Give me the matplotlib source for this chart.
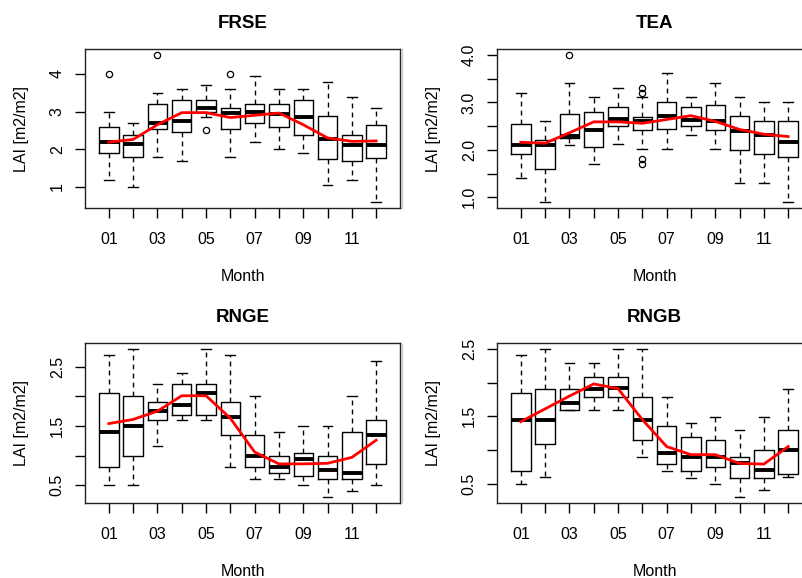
import matplotlib
matplotlib.use("Agg")
import matplotlib.pyplot as plt
from matplotlib.lines import Line2D

plt.rcParams['font.family'] = ['Liberation Sans', 'DejaVu Sans']

months = list(range(1, 13))
month_labels = ["01", "", "03", "", "05", "", "07", "", "09", "", "11", ""]

# ---- FRSE ----
frse_whislo = [1.19, 1.00, 1.80, 1.69, 2.85, 1.80, 2.20, 2.00, 1.89, 1.05, 1.19, 0.60]
frse_q1     = [1.89, 1.79, 2.55, 2.45, 3.00, 2.55, 2.70, 2.59, 2.38, 1.75, 1.69, 1.77]
frse_med    = [2.19, 2.14, 2.70, 2.75, 3.10, 2.97, 3.00, 2.94, 2.85, 2.27, 2.10, 2.10]
frse_q3     = [2.59, 2.37, 3.20, 3.30, 3.30, 3.10, 3.20, 3.20, 3.30, 2.89, 2.39, 2.63]
frse_whishi = [3.00, 2.70, 3.50, 3.60, 3.70, 3.60, 3.95, 3.60, 3.60, 3.79, 3.39, 3.10]
frse_fliers = [[4.0], [], [4.5], [], [2.5], [4.0], [], [], [], [], [], []]
frse_mean   = [2.19, 2.26, 2.65, 2.97, 2.97, 2.84, 2.90, 2.96, 2.65, 2.30, 2.21, 2.22]
frse_yticks = [1, 2, 3, 4]
frse_yticklabels = ["1", "2", "3", "4"]

# ---- TEA ----
tea_whislo = [1.40, 0.90, 2.10, 1.71, 2.12, 2.02, 2.01, 2.31, 2.01, 1.31, 1.31, 0.90]
tea_q1     = [1.91, 1.60, 2.26, 2.05, 2.50, 2.41, 2.43, 2.50, 2.41, 2.00, 1.91, 1.86]
tea_med    = [2.11, 2.10, 2.29, 2.41, 2.66, 2.60, 2.71, 2.63, 2.60, 2.39, 2.31, 2.16]
tea_q3     = [2.55, 2.21, 2.75, 2.80, 2.90, 2.70, 3.00, 2.90, 2.95, 2.71, 2.60, 2.60]
tea_whishi = [3.20, 2.60, 3.41, 3.11, 3.30, 3.11, 3.61, 3.11, 3.41, 3.11, 3.00, 3.00]
tea_fliers = [[], [], [4.0], [], [], [3.20, 3.31, 1.71, 1.81], [], [], [], [], [], []]
tea_mean   = [2.16, 2.14, 2.36, 2.59, 2.59, 2.56, 2.64, 2.72, 2.60, 2.43, 2.33, 2.28]
tea_yticks = [1.0, 1.5, 2.0, 2.5, 3.0, 3.5, 4.0]
tea_yticklabels = ["1.0", "", "2.0", "", "3.0", "", "4.0"]

# ---- RNGE ----
rnge_whislo = [0.50, 0.50, 1.17, 1.60, 1.60, 0.80, 0.60, 0.60, 0.50, 0.30, 0.40, 0.50]
rnge_q1     = [0.80, 1.00, 1.60, 1.69, 1.69, 1.35, 0.80, 0.70, 0.65, 0.60, 0.60, 0.85]
rnge_med    = [1.40, 1.50, 1.76, 1.85, 2.05, 1.65, 1.00, 0.80, 0.95, 0.76, 0.70, 1.35]
rnge_q3     = [2.05, 2.00, 1.90, 2.20, 2.20, 1.90, 1.34, 1.00, 1.05, 1.00, 1.40, 1.60]
rnge_whishi = [2.70, 2.80, 2.20, 2.39, 2.80, 2.70, 2.00, 1.40, 1.50, 1.50, 2.00, 2.60]
rnge_fliers = [[] for _ in range(12)]
rnge_mean   = [1.54, 1.61, 1.75, 2.01, 2.01, 1.63, 1.06, 0.86, 0.86, 0.87, 0.97, 1.26]
rnge_yticks = [0.5, 1.0, 1.5, 2.0, 2.5]
rnge_yticklabels = ["0.5", "", "1.5", "", "2.5"]

# ---- RNGB ----
rngb_whislo = [0.50, 0.60, 1.60, 1.60, 1.60, 0.90, 0.69, 0.59, 0.50, 0.30, 0.40, 0.60]
rngb_q1     = [0.69, 1.09, 1.60, 1.79, 1.79, 1.15, 0.79, 0.69, 0.75, 0.59, 0.59, 0.65]
rngb_med    = [1.45, 1.45, 1.70, 1.90, 1.92, 1.45, 0.95, 0.90, 0.90, 0.80, 0.70, 1.00]
rngb_q3     = [1.85, 1.90, 1.90, 2.09, 2.09, 1.79, 1.35, 1.19, 1.15, 0.89, 1.00, 1.30]
rngb_whishi = [2.41, 2.50, 2.29, 2.29, 2.50, 2.50, 1.79, 1.40, 1.49, 1.30, 1.49, 1.90]
rngb_fliers = [[] for _ in range(12)]
rngb_mean   = [1.42, 1.61, 1.80, 1.98, 1.91, 1.45, 1.05, 0.93, 0.93, 0.80, 0.79, 1.05]
rngb_yticks = [0.5, 1.0, 1.5, 2.0, 2.5]
rngb_yticklabels = ["0.5", "", "1.5", "", "2.5"]

panels = [
    ("FRSE", frse_whislo, frse_q1, frse_med, frse_q3, frse_whishi, frse_fliers, frse_mean, frse_yticks, frse_yticklabels),
    ("TEA", tea_whislo, tea_q1, tea_med, tea_q3, tea_whishi, tea_fliers, tea_mean, tea_yticks, tea_yticklabels),
    ("RNGE", rnge_whislo, rnge_q1, rnge_med, rnge_q3, rnge_whishi, rnge_fliers, rnge_mean, rnge_yticks, rnge_yticklabels),
    ("RNGB", rngb_whislo, rngb_q1, rngb_med, rngb_q3, rngb_whishi, rngb_fliers, rngb_mean, rngb_yticks, rngb_yticklabels),
]

W, H = 802, 578
fig = plt.figure(figsize=(W / 100, H / 100), dpi=100)

# axes rectangles in pixels: (left, top, right, bottom)
rects = [(85, 49, 400, 208), (497, 49, 812, 208), (85, 343, 400, 503), (497, 343, 812, 503)]

FS = 11.5
for (name, wlo, q1, med, q3, whi, fl, mean, yt, ytl), (l, t, r, b) in zip(panels, rects):
    ax = fig.add_axes([l / W, 1 - b / H, (r - l) / W, (b - t) / H])
    stats = []
    for i in range(12):
        stats.append(dict(whislo=wlo[i], q1=q1[i], med=med[i], q3=q3[i], whishi=whi[i], fliers=fl[i]))
    ax.bxp(stats, positions=months, widths=0.8, capwidths=0.4, showfliers=True,
           boxprops=dict(color='black', linewidth=1.0),
           medianprops=dict(color='black', linewidth=2.8, solid_capstyle='butt'),
           whiskerprops=dict(color='black', linewidth=1.0, linestyle=(0, (3.5, 3))),
           capprops=dict(color='black', linewidth=1.0),
           flierprops=dict(marker='o', markersize=4.5, markerfacecolor='none',
                           markeredgecolor='black', markeredgewidth=0.9, linestyle='none'))
    ax.plot(months, mean, color='#ff0000', linewidth=2.0, zorder=5)

    allv = wlo + whi + [v for f in fl for v in f]
    lo, hi = min(allv), max(allv)
    pad = 0.04 * (hi - lo)
    ax.set_ylim(lo - pad, hi + pad)
    ax.set_xlim(0.5 - 0.48, 12.5 + 0.48)

    ax.set_xticks(months)
    ax.set_xticklabels(month_labels, fontsize=FS)
    ax.set_yticks(yt)
    ax.set_yticklabels(ytl, fontsize=FS, rotation=90, va='center')
    ax.tick_params(axis='both', direction='out', length=7.5, width=1.0, color='black')
    ax.tick_params(axis='x', pad=10)
    ax.tick_params(axis='y', pad=7)
    for sp in ax.spines.values():
        sp.set_linewidth(1.0)
        sp.set_color('#222222')

    ax.set_xlabel("Month", fontsize=FS, labelpad=15.5)
    ax.set_ylabel("LAI [m2/m2]", fontsize=FS, labelpad=15)
    ax.set_title(name, fontsize=13.5, fontweight='bold', pad=15)

# faint grey separators at the left of the right-hand panels
for (t, b) in [(49, 208), (344, 502)]:
    fig.add_artist(Line2D([402 / W, 402 / W], [1 - t / H, 1 - b / H],
                          transform=fig.transFigure, color='#c8c8c8', linewidth=1.0))

fig.savefig("out.png", dpi=100)
